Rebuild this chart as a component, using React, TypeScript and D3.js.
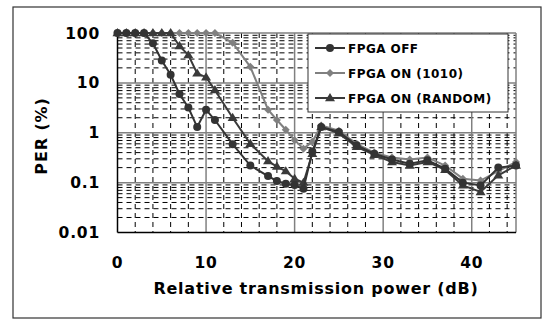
import React from "react";
import * as d3 from "d3";

const xs = [0,1,2,3,4,5,6,7,8,9,10,11,13,15,17,18,19,20,21,22,23,25,27,29,31,33,35,37,39,41,43,45];
const perOff = [100,100,100,100,62,28,14.5,6,3.2,1.3,2.9,1.8,0.59,0.22,0.135,0.108,0.095,0.09,0.075,0.42,1.3,1.04,0.56,0.38,0.29,0.24,0.28,0.19,0.1,0.088,0.2,0.22];
const per1010 = [100,100,100,100,100,100,100,100,100,100,100,100,64,21,2.9,1.8,1.15,0.71,0.48,0.66,1.4,1.1,0.6,0.4,0.32,0.29,0.32,0.22,0.12,0.11,0.17,0.26];
const perRandom = [100,100,100,100,100,100,100,55,36,15.5,13,7.2,2.0,0.6,0.27,0.21,0.17,0.12,0.1,0.38,1.3,0.97,0.52,0.36,0.26,0.22,0.26,0.18,0.088,0.065,0.14,0.22];
const seriesNames = ["FPGA OFF", "FPGA ON (1010)", "FPGA ON (RANDOM)"];
const xTicks = [0,10,20,30,40];
const yTicks = [0.01,0.1,1,10,100];
const yTickLabels = ["0.01","0.1","1","10","100"];

const W = 543, H = 320;
const FONT = "'DejaVu Sans', Verdana, sans-serif";

function marker(kind: string, r: number) {
  if (kind === "circle") return null;
  if (kind === "diamond") return `M0,${-r}L${r},0L0,${r}L${-r},0Z`;
  return `M0,${-r - 1}L${r + 1},${r * 0.8}L${-r - 1},${r * 0.8}Z`;
}

export default function App() {
  const x = d3.scaleLinear().domain([0, 45]).range([117.5, 516]);
  const y = d3.scaleLog().domain([0.01, 100]).range([232.5, 33]);
  const left = x(0), right = x(45), top = y(100), bottom = y(0.01);

  const minorY: number[] = [];
  for (let d = -2; d <= 1; d++) for (let k = 2; k <= 9; k++) minorY.push(k * Math.pow(10, d));
  const minorX: number[] = [];
  for (let v = 2; v < 45; v += 2) if (v % 10 !== 0) minorX.push(v);
  const majorY = [0.1, 1, 10];
  const majorX = [10, 20, 30, 40];

  const series = [
    { name: seriesNames[1], data: per1010, color: "#808080", kind: "diamond" },
    { name: seriesNames[2], data: perRandom, color: "#3a3a3a", kind: "triangle" },
    { name: seriesNames[0], data: perOff, color: "#333333", kind: "circle" },
  ];
  const legendOrder = [series[2], series[0], series[1]];

  const line = d3.line<number>().x((_, i) => x(xs[i])).y((d) => y(d));

  const drawMarker = (kind: string, color: string, cx: number, cy: number, key: any) =>
    kind === "circle" ? (
      <circle key={key} cx={cx} cy={cy} r={4} fill={color} />
    ) : (
      <path key={key} d={marker(kind, 4)!} transform={`translate(${cx},${cy})`} fill={color} />
    );

  return (
    <svg width={W} height={H} style={{ position: "absolute", left: 0, top: 0, background: "#fff" }}>
      <rect x={13} y={7} width={528} height={311} fill="#fff" stroke="#333" strokeWidth={1.2} />
      {/* minor grid */}
      {minorY.map((v, i) => (
        <line key={"my" + i} x1={left} x2={right} y1={y(v)} y2={y(v)} stroke="#000" strokeWidth={1} strokeDasharray="5,4" />
      ))}
      {minorX.map((v, i) => (
        <line key={"mx" + i} x1={x(v)} x2={x(v)} y1={top} y2={bottom} stroke="#000" strokeWidth={1} strokeDasharray="5,4" />
      ))}
      {majorY.map((v, i) => (
        <line key={"My" + i} x1={left} x2={right} y1={y(v)} y2={y(v)} stroke="#808080" strokeWidth={1.5} />
      ))}
      {majorX.map((v, i) => (
        <line key={"Mx" + i} x1={x(v)} x2={x(v)} y1={top} y2={bottom} stroke="#808080" strokeWidth={1.5} />
      ))}
      <line x1={left} x2={right} y1={top} y2={top} stroke="#808080" strokeWidth={1.5} />
      <line x1={right} x2={right} y1={top} y2={bottom} stroke="#808080" strokeWidth={1.5} />
      <line x1={left} x2={left} y1={top} y2={bottom} stroke="#000" strokeWidth={1.5} />
      <line x1={left} x2={right} y1={bottom} y2={bottom} stroke="#000" strokeWidth={1.5} />

      {/* series */}
      {series.map((s) => (
        <g key={s.name}>
          <path d={line(s.data)!} fill="none" stroke={s.color} strokeWidth={2} />
          {s.data.map((d, i) => drawMarker(s.kind, s.color, x(xs[i]), y(d), i))}
        </g>
      ))}

      {/* legend */}
      <rect x={308} y={34} width={200} height={78} fill="#fff" stroke="#333" strokeWidth={1} />
      {legendOrder.map((s, i) => {
        const ly = 48 + i * 25;
        return (
          <g key={"lg" + i}>
            <line x1={315} x2={345} y1={ly} y2={ly} stroke={s.color} strokeWidth={2} />
            {drawMarker(s.kind, s.color, 330, ly, "m")}
            <text x={348} y={ly + 4.5} fontFamily={FONT} fontWeight="bold" fontSize={12} letterSpacing={0.45} fill="#000">
              {s.name}
            </text>
          </g>
        );
      })}

      {/* y tick labels */}
      {yTicks.map((v, i) => (
        <text key={"yt" + i} x={100} y={y(v) + 5.5} textAnchor="end" fontFamily={FONT} fontWeight="bold" fontSize={15.5} letterSpacing={0.8} fill="#000">
          {yTickLabels[i]}
        </text>
      ))}
      {xTicks.map((v, i) => (
        <text key={"xt" + i} x={x(v)} y={268} textAnchor="middle" fontFamily={FONT} fontWeight="bold" fontSize={15.5} letterSpacing={0.8} fill="#000">
          {String(v)}
        </text>
      ))}
      <text x={316} y={294} textAnchor="middle" fontFamily={FONT} fontWeight="bold" fontSize={16} letterSpacing={0.75} fill="#000">
        Relative transmission power (dB)
      </text>
      <text transform={`translate(47,136) rotate(-90)`} textAnchor="middle" fontFamily={FONT} fontWeight="bold" fontSize={16} letterSpacing={0.9} fill="#000">
        PER (%)
      </text>
    </svg>
  );
}
